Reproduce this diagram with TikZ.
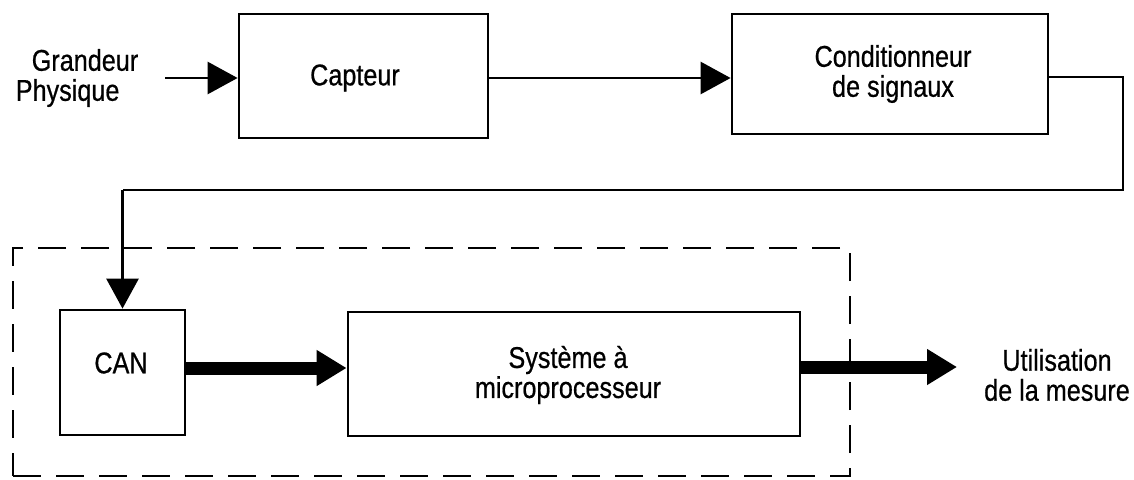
\documentclass[tikz,border=0pt]{standalone}
\usepackage{fontspec}
\setmainfont{Liberation Sans}[FakeStretch=0.84,FakeBold=0.6]
\usetikzlibrary{arrows.meta}
\begin{document}
\begin{tikzpicture}[x=1pt,y=-1pt,
  every node/.style={font=\fontsize{30}{30}\selectfont, inner sep=0pt},
  blk/.style={draw, line width=2.8pt, rectangle},
  conn/.style={line width=2.8pt, -{Triangle[length=30pt,width=32pt]}},
  plain/.style={line width=2.8pt},
  thick arrow/.style={line width=13pt, -{Triangle[length=30pt,width=34pt]}},
  grp/.style={draw, line width=2.8pt, dash pattern=on 28pt off 15pt}]
\useasboundingbox (0,0) rectangle (1134,479);
% boxes
\node[blk, minimum width=249pt, minimum height=124pt] (cap) at (363.5,76) {};
\node (captext) at (355,78) {Capteur};
\node[blk, minimum width=316pt, minimum height=120pt] (cond) at (890,74) {};
\node[align=center] (condtext) at (893,74) {Conditionneur\\de signaux};
\node[blk, minimum width=125pt, minimum height=125pt] (can) at (122.5,372.5) {};
\node (cantext) at (121,363) {CAN};
\node[blk, minimum width=452pt, minimum height=124pt] (sys) at (574,374) {};
\node[align=center] (systext) at (568,375) {Syst\`eme \`a\\microprocesseur};
% group
\node[grp, minimum width=837pt, minimum height=228pt] (group) at (431.5,362) {};
% texts
\node[align=left] (gp) at (77,78) {\hspace*{16pt}Grandeur\\Physique};
\node[align=center] (util) at (1057,375) {Utilisation\\de la mesure};
% connectors
\coordinate (gin) at (165,78);
\draw[conn] (gin) -- (gin -| cap.west);
\draw[conn] (cap.east |- gin) -- (gin -| cond.west);
\coordinate (r1) at (1123,77);
\coordinate (r2) at (1123,190);
\coordinate (r3) at (122.5,190);
\draw[plain] (cond.east |- r1) -- (r1) -- (r2) -- (r3);
\draw[conn] (r3) -- (can.north);
\coordinate (mid) at (0,368);
\draw[thick arrow] (can.east |- mid) -- (sys.west |- mid);
\coordinate (out) at (957,367);
\draw[thick arrow] (sys.east |- out) -- (out);
\end{tikzpicture}
\end{document}
